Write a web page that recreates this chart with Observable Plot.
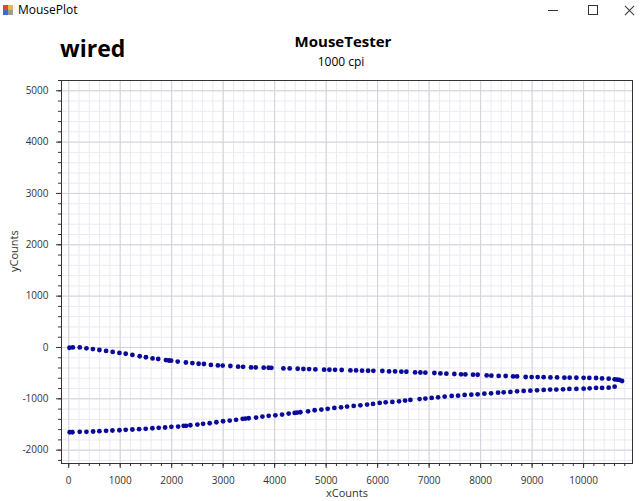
<!DOCTYPE html>
<html>
<head>
<meta charset="utf-8">
<script src="https://cdn.jsdelivr.net/npm/d3@7"></script>
<script src="https://cdn.jsdelivr.net/npm/@observablehq/plot@0.6"></script>
<style>
  body { margin: 0; background: #fff; font-family: "Open Sans", sans-serif; }
  #wrap { position: relative; width: 640px; height: 501px; overflow: hidden; background: #fff; }
  #header { position: relative; height: 75px; }
  .abs { position: absolute; white-space: nowrap; line-height: 1; }
  #chart svg { display: block; }
</style>
</head>
<body>
<div id="wrap">
  <div id="header">
    <div class="abs" style="left:3px;top:5px;width:10px;height:10px;">
      <div style="position:absolute;left:0;top:0;width:5px;height:5px;background:#d9493a"></div>
      <div style="position:absolute;left:5px;top:0;width:5px;height:5px;background:#e8b93c"></div>
      <div style="position:absolute;left:0;top:5px;width:5px;height:5px;background:#3b6fc4"></div>
      <div style="position:absolute;left:5px;top:5px;width:5px;height:5px;background:#9c9c9c"></div>
    </div>
    <div class="abs" style="left:18px;top:4px;font-size:12px;color:#000;">MousePlot</div>
    <div class="abs" style="left:548px;top:10px;width:10px;height:1px;background:#333;"></div>
    <div class="abs" style="left:588px;top:5px;width:8px;height:8px;border:1px solid #333;"></div>
    <div class="abs" style="left:623px;top:10px;width:13px;height:1px;background:#333;transform:rotate(45deg);"></div>
    <div class="abs" style="left:623px;top:10px;width:13px;height:1px;background:#333;transform:rotate(-45deg);"></div>
    <div class="abs" style="left:60px;top:37px;font-size:23px;font-weight:700;color:#000;">wired</div>
    <div class="abs" style="left:343px;top:34px;font-size:15px;font-weight:700;color:#000;transform:translateX(-50%);">MouseTester</div>
    <div class="abs" style="left:341px;top:56px;font-size:12px;color:#000;transform:translateX(-50%);">1000 cpi</div>
  </div>
  <div id="chart"></div>
</div>
<script>
// Outgoing stroke (upper trace)
const upperX = [15, 80, 215, 344, 470, 596, 726, 854, 985, 1107, 1237, 1379, 1499, 1629, 1738, 1888, 1946, 1989, 2117, 2276, 2402, 2523, 2626, 2762, 2897, 2991, 3140, 3290, 3387, 3542, 3632, 3787, 3884, 3937, 4170, 4292, 4447, 4558, 4669, 4791, 4960, 5063, 5173, 5302, 5471, 5581, 5698, 5814, 5917, 6092, 6222, 6339, 6461, 6558, 6727, 6830, 6927, 7102, 7219, 7335, 7490, 7620, 7704, 7853, 7943, 8118, 8209, 8351, 8487, 8630, 8708, 8875, 8991, 9108, 9224, 9355, 9485, 9627, 9730, 9860, 10001, 10112, 10242, 10359, 10487, 10603, 10650, 10694, 10747];
const upperY = [-5, 0, 0, -16, -31, -49, -68, -87, -107, -122, -146, -171, -190, -214, -225, -245, -254, -258, -274, -293, -303, -317, -322, -340, -350, -352, -361, -375, -377, -388, -389, -394, -395, -396, -408, -409, -414, -419, -420, -427, -433, -434, -435, -439, -447, -448, -452, -453, -454, -458, -466, -467, -472, -473, -486, -488, -491, -497, -505, -511, -517, -524, -525, -530, -531, -544, -550, -555, -556, -563, -564, -575, -576, -577, -578, -583, -584, -588, -589, -590, -591, -594, -595, -602, -608, -621, -627, -633, -653];
// Return stroke (lower trace)
const lowerX = [19, 72, 214, 344, 474, 596, 726, 849, 985, 1107, 1237, 1367, 1495, 1625, 1748, 1872, 1994, 2125, 2233, 2280, 2363, 2499, 2610, 2738, 2868, 2998, 3127, 3251, 3379, 3432, 3496, 3639, 3762, 3884, 4014, 4144, 4272, 4389, 4436, 4500, 4649, 4777, 4907, 5030, 5160, 5290, 5407, 5535, 5665, 5795, 5911, 6040, 6156, 6286, 6416, 6533, 6636, 6815, 6927, 7049, 7174, 7302, 7438, 7562, 7690, 7820, 7943, 8073, 8203, 8339, 8448, 8578, 8708, 8836, 8966, 9096, 9225, 9349, 9471, 9601, 9724, 9860, 10001, 10118, 10242, 10359, 10487, 10603];
const lowerY = [-1651, -1651, -1643, -1643, -1637, -1631, -1623, -1617, -1612, -1604, -1598, -1592, -1585, -1573, -1565, -1559, -1546, -1540, -1526, -1526, -1515, -1501, -1488, -1476, -1457, -1437, -1423, -1410, -1390, -1385, -1379, -1365, -1346, -1332, -1321, -1307, -1288, -1274, -1268, -1262, -1243, -1223, -1210, -1196, -1177, -1165, -1152, -1138, -1126, -1113, -1099, -1080, -1068, -1060, -1049, -1035, -1021, -1005, -996, -983, -971, -957, -944, -938, -924, -919, -913, -899, -893, -880, -874, -866, -854, -847, -841, -835, -827, -821, -821, -816, -808, -808, -802, -796, -788, -788, -783, -763];

const xMajorTicks = [0, 1000, 2000, 3000, 4000, 5000, 6000, 7000, 8000, 9000, 10000];
const yMajorTicks = [-2000, -1000, 0, 1000, 2000, 3000, 4000, 5000];
const xMinorTicks = d3.range(0, 10801, 200);
const yMinorTicks = d3.range(-2200, 5201, 200);

const points = [
  ...upperX.map((x, i) => ({x, y: upperY[i]})),
  ...lowerX.map((x, i) => ({x, y: lowerY[i]}))
];

const ink = "#333";
const chart = Plot.plot({
  width: 640,
  height: 426,
  marginLeft: 61,
  marginRight: 8,
  marginTop: 5,
  marginBottom: 38,
  x: {domain: [-140, 10950]},
  y: {domain: [-2260, 5200]},
  style: {fontFamily: "'Open Sans', sans-serif", fontSize: "10px", color: ink, background: "transparent", overflow: "visible"},
  marks: [
    Plot.gridX(xMinorTicks, {stroke: "#eaeaf2", strokeOpacity: 1}),
    Plot.gridY(yMinorTicks, {stroke: "#eaeaf2", strokeOpacity: 1}),
    Plot.gridX(xMajorTicks, {stroke: "#d2d2dc", strokeOpacity: 1}),
    Plot.gridY(yMajorTicks, {stroke: "#d2d2dc", strokeOpacity: 1}),
    Plot.axisX(xMinorTicks, {tickSize: 3, tickFormat: () => "", label: null, stroke: ink}),
    Plot.axisX(xMajorTicks, {tickSize: 5, tickPadding: 8, label: null, stroke: ink, fill: ink, tickFormat: d => String(d)}),
    Plot.axisY(yMinorTicks, {tickSize: 3, tickFormat: () => "", label: null, stroke: ink}),
    Plot.axisY(yMajorTicks, {tickSize: 5, tickPadding: 8, label: null, stroke: ink, fill: ink, tickFormat: d => String(d)}),
    Plot.frame({stroke: ink}),
    Plot.dot(points, {x: "x", y: "y", r: 2.4, fill: "#0a0a9a", stroke: "none"}),
    Plot.text(["xCounts"], {text: d => d, frameAnchor: "bottom", dy: 33, fontSize: 11, fill: ink}),
    Plot.text(["yCounts"], {text: d => d, frameAnchor: "left", dx: -47, rotate: -90, fontSize: 11, fill: ink})
  ]
});
document.getElementById("chart").appendChild(chart);
</script>
</body>
</html>
